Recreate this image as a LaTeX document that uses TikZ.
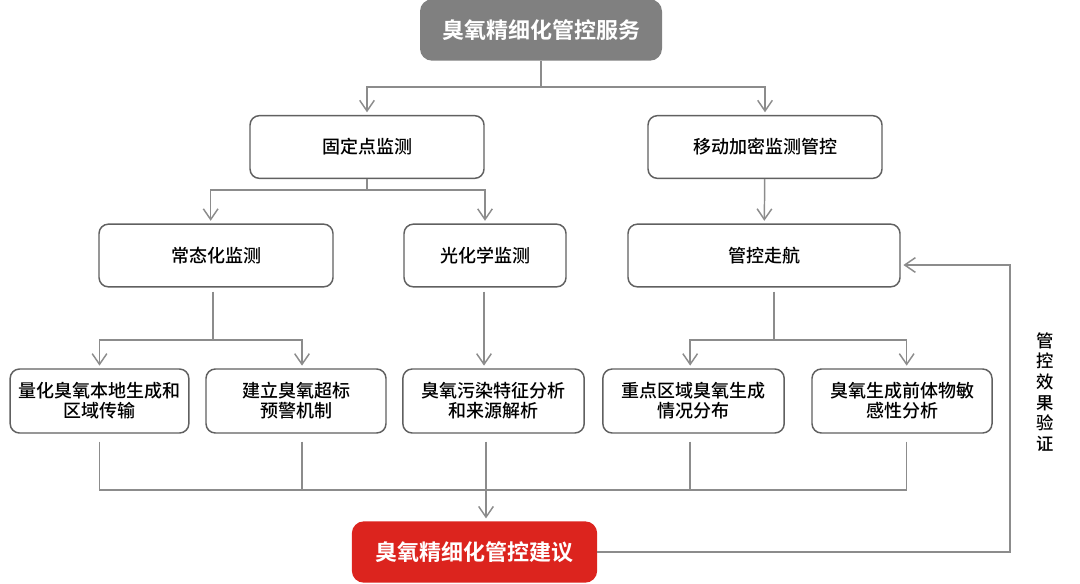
\documentclass[tikz,border=0pt]{standalone}
\usepackage{fontspec}
\setmainfont{Noto Sans CJK SC}[UprightFont=* Medium, BoldFont=* Bold]
\usepackage{xcolor}
\usetikzlibrary{arrows.meta}
\definecolor{linegray}{RGB}{140,140,140}
\definecolor{boxgray}{RGB}{96,96,96}
\definecolor{titlegray}{RGB}{128,128,128}
\definecolor{adviceRed}{RGB}{220,36,30}

\begin{document}
\begin{tikzpicture}[x=0.75pt,y=-0.75pt,
	box/.style={draw=boxgray, line width=1.1pt, rounded corners=7pt, fill=white, align=center, font=\fontsize{13.5}{15}\selectfont, inner sep=0pt, minimum height=47pt},
	head/.style={rounded corners=9pt, text=white, align=center, font=\fontsize{16.5}{18}\selectfont\bfseries, inner sep=0pt, minimum height=46pt},
	link/.style={draw=linegray, line width=1.1pt},
	arr/.style={link, -{Straight Barb[length=8pt,width=11pt,line width=1.1pt]}, shorten >=2pt}]
	\useasboundingbox (0,0) rectangle (1080,583);
	\node[head, fill=titlegray, minimum width=181.5pt] (serv) at (541,30) {臭氧精细化管控服务};
	\node[box, minimum width=175.5pt] (fix) at (367,147) {固定点监测};
	\node[box, minimum width=175.5pt] (mov) at (765,147) {移动加密监测管控};
	\node[box, minimum width=175.5pt] (rout) at (216,255.5) {常态化监测};
	\node[box, minimum width=121.5pt] (photo) at (485,255.5) {光化学监测};
	\node[box, minimum width=204pt] (cruise) at (764,255.5) {管控走航};
	\node[box, minimum width=134pt, minimum height=48pt] (quant) at (99.5,401) {量化臭氧本地生成和\\区域传输};
	\node[box, minimum width=135pt, minimum height=48pt] (warn) at (296,401) {建立臭氧超标\\预警机制};
	\node[box, minimum width=136pt, minimum height=48pt] (source) at (493.5,401) {臭氧污染特征分析\\和来源解析};
	\node[box, minimum width=136pt, minimum height=48pt] (area) at (693.5,401) {重点区域臭氧生成\\情况分布};
	\node[box, minimum width=135pt, minimum height=48pt] (prec) at (902,401) {臭氧生成前体物敏\\感性分析};
	\node[head, fill=adviceRed, minimum width=184pt] (adv) at (474.5,552) {臭氧精细化管控建议};
	\node[align=center, font=\fontsize{13}{15.5}\selectfont] (check) at (1045,392) {管\\控\\效\\果\\验\\证};

	\coordinate (j1) at (541,87);
	\coordinate (j2) at (367,190);
	\coordinate (j3) at (213,340);
	\coordinate (j4) at (774,340);
	\coordinate (jb) at (486,490);
	\coordinate (fb) at (1010,265);

	\draw[link] (serv) -- (j1);
	\draw[arr] (j1) -| (fix);
	\draw[arr] (j1) -| (mov);
	\draw[link] (fix) -- (j2);
	\draw[arr] (j2) -| ([xshift=-4pt]rout.north);
	\draw[arr] (j2) -| (photo);
	\draw[arr] (mov) -- (cruise);
	\draw[link, shorten <=3pt] (rout.south -| j3) -- (j3);
	\draw[arr] (j3) -| (quant);
	\draw[arr] (j3) -| ([xshift=4.5pt]warn.north);
	\draw[arr, shorten <=3pt] (photo.south -| 484,0) -- (source.north -| 484,0);
	\draw[link, shorten <=3pt] (cruise.south -| j4) -- (j4);
	\draw[arr] (j4) -| ([xshift=-2.5pt]area.north);
	\draw[arr] (j4) -| ([xshift=3.5pt]prec.north);
	\draw[link, shorten <=6pt] (quant.south) |- (jb);
	\draw[link, shorten <=6pt] ([xshift=4.5pt]warn.south) |- (jb);
	\draw[link, shorten <=6pt] (source.south -| jb) -- (jb);
	\draw[link, shorten <=6pt] ([xshift=-2.5pt]area.south) |- (jb);
	\draw[link, shorten <=6pt] ([xshift=3.5pt]prec.south) |- (jb);
	\draw[arr] (jb) -- (jb |- adv.north);
	\draw[arr] (adv.east) -- (adv.east -| fb) -- (fb) -- (fb -| cruise.east);
\end{tikzpicture}
\end{document}
